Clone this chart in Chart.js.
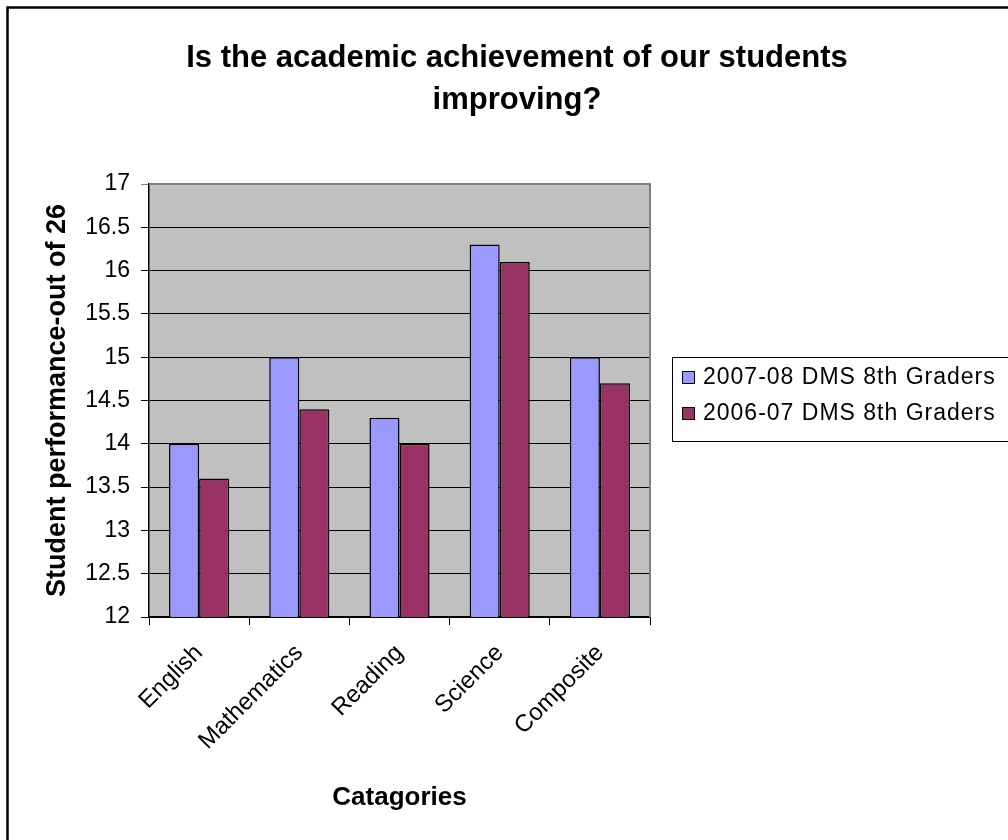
<!DOCTYPE html>
<html>
<head>
<meta charset="utf-8">
<script src="https://cdn.jsdelivr.net/npm/chart.js@4.4.0/dist/chart.umd.min.js"></script>
<style>
  body { margin: 0; background: #fff; }
  #wrap { width: 1008px; height: 840px; }
</style>
</head>
<body>
<div id="wrap"><canvas id="chart" width="1008" height="840"></canvas></div>
<script>
const categories = ["English", "Mathematics", "Reading", "Science", "Composite"];
const seriesNames = ["2007-08 DMS 8th Graders", "2006-07 DMS 8th Graders"];
const scores0708 = [14, 15, 14.3, 16.3, 15];
const scores0607 = [13.6, 14.4, 14, 16.1, 14.7];
const seriesColors = ["#9999FF", "#993366"];
const yMin = 12, yMax = 17, yStep = 0.5;
const titleLines = ["Is the academic achievement of our students", "improving?"];

const FONT = "'Liberation Sans', Arial, sans-serif";

// background, frame, title, legend
const decor = {
  id: "decor",
  beforeDraw(chart) {
    const { ctx, chartArea: a } = chart;
    ctx.save();
    ctx.fillStyle = "#fff";
    ctx.fillRect(0, 0, chart.width, chart.height);
    ctx.fillStyle = "#C0C0C0";
    ctx.fillRect(a.left, a.top, a.right - a.left, a.bottom - a.top);

    ctx.strokeStyle = "#000";
    ctx.lineWidth = 2.5;
    ctx.beginPath();
    ctx.moveTo(1010, 7.5);
    ctx.lineTo(7.5, 7.5);
    ctx.lineTo(7.5, 842);
    ctx.stroke();

    ctx.fillStyle = "#000";
    ctx.font = "bold 31px " + FONT;
    ctx.textAlign = "center";
    ctx.textBaseline = "middle";
    titleLines.forEach((t, i) => ctx.fillText(t, 517, 58 + i * 42));
    ctx.restore();
  },
  afterDraw(chart) {
    const { ctx, chartArea: a } = chart;
    ctx.save();
    // plot border top/right
    ctx.strokeStyle = "#808080";
    ctx.lineWidth = 2;
    ctx.beginPath();
    ctx.moveTo(a.left, a.top);
    ctx.lineTo(a.right, a.top);
    ctx.lineTo(a.right, a.bottom);
    ctx.stroke();

    // LEGEND
    ctx.strokeStyle = "#000";
    ctx.lineWidth = 1;
    ctx.strokeRect(672.5, 357.5, 400, 84);
    ctx.font = "23px " + FONT;
    ctx.letterSpacing = "1px";
    ctx.textAlign = "left";
    ctx.textBaseline = "middle";
    chart.data.datasets.forEach((ds, i) => {
      const y = 377 + i * 36;
      ctx.fillStyle = ds.backgroundColor;
      ctx.fillRect(682, y - 6, 13, 13);
      ctx.strokeRect(682.5, y - 5.5, 12, 12);
      ctx.fillStyle = "#000";
      ctx.fillText(ds.label, 703, y + 1);
    });
    ctx.restore();
  }
};

new Chart(document.getElementById("chart"), {
  type: "bar",
  data: {
    labels: categories,
    datasets: [
      { label: seriesNames[0], data: scores0708, backgroundColor: seriesColors[0] },
      { label: seriesNames[1], data: scores0607, backgroundColor: seriesColors[1] }
    ]
  },
  options: {
    responsive: false,
    animation: false,
    layout: { padding: { left: 0, top: 184, right: 358, bottom: 0 } },
    datasets: {
      bar: {
        borderColor: "#000",
        borderWidth: 1.5,
        categoryPercentage: 0.6,
        barPercentage: 1
      }
    },
    plugins: {
      legend: { display: false },
      title: { display: false },
      tooltip: { enabled: false }
    },
    scales: {
      x: {
        afterFit(scale) { scale.height = 223; },
        grid: { drawOnChartArea: false, color: "#000", tickLength: 8 },
        border: { color: "#000", width: 1.5 },
        ticks: {
          color: "#000",
          font: { family: FONT, size: 24 },
          maxRotation: 45,
          minRotation: 45,
          padding: 14
        },
        title: {
          display: true,
          text: "Catagories",
          color: "#000",
          font: { family: FONT, size: 26, weight: "bold" },
          padding: { top: 0, bottom: 27 }
        }
      },
      y: {
        min: yMin,
        max: yMax,
        afterFit(scale) { scale.width = 149; },
        grid: {
          color: ctx => ctx.tick && ctx.tick.value === yMax ? "#808080" : "#000",
          lineWidth: 1,
          tickLength: 8
        },
        border: { color: "#000", width: 1.5 },
        ticks: {
          stepSize: yStep,
          color: "#000",
          font: { family: FONT, size: 23 },
          padding: 11,
          callback: v => String(Math.round(v * 10) / 10)
        },
        title: {
          display: true,
          text: "Student performance-out of 26",
          color: "#000",
          font: { family: FONT, size: 27, weight: "bold" },
          padding: { top: 41, bottom: 0 }
        }
      }
    }
  },
  plugins: [decor]
});
</script>
</body>
</html>
